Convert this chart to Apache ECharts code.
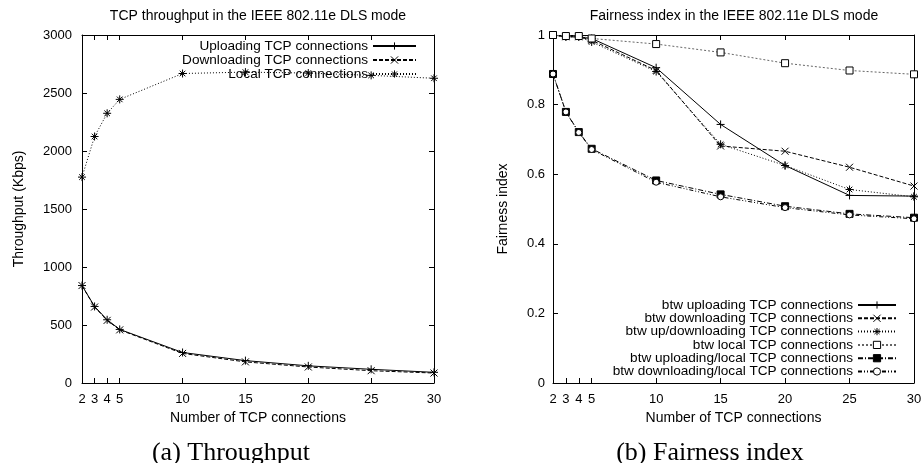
<!doctype html>
<html>
<head>
<meta charset="utf-8">
<title>TCP throughput / fairness in IEEE 802.11e DLS mode (ECharts)</title>
<script src="https://cdn.jsdelivr.net/npm/echarts@6/dist/echarts.min.js"></script>
<style>html, body { margin: 0; background: #fff; }</style>
</head>
<body>
<div id="chart" style="width: 923px; height: 463px;"></div>
<script>
// number of TCP connections (x for both panels)
const conns = [2, 3, 4, 5, 10, 15, 20, 25, 30];

// (a) throughput, Kbps
const thrUp    = [840, 660, 545, 462, 263, 193, 148, 118, 92];
const thrDown  = [840, 655, 540, 458, 255, 182, 138, 106, 86];
const thrLocal = [1775, 2125, 2325, 2445, 2668, 2680, 2672, 2652, 2627];

// (b) fairness index
const fairUp        = [1.0, 0.995, 0.995, 0.99, 0.906, 0.743, 0.625, 0.539, 0.537];
const fairDown      = [1.0, 0.995, 0.995, 0.985, 0.898, 0.681, 0.666, 0.62, 0.566];
const fairUpDown    = [1.0, 0.995, 0.995, 0.98, 0.895, 0.686, 0.625, 0.556, 0.535];
const fairLocal     = [1.0, 0.997, 0.997, 0.99, 0.974, 0.95, 0.919, 0.898, 0.887];
const fairUpLocal   = [0.888, 0.779, 0.721, 0.673, 0.582, 0.542, 0.508, 0.486, 0.475];
const fairDownLocal = [0.888, 0.779, 0.72, 0.671, 0.577, 0.535, 0.504, 0.483, 0.472];

const xTicks = [2, 3, 4, 5, 10, 15, 20, 25, 30];

// gnuplot-ish point types
const PLUS  = 'path://M5,0V10M0,5H10';
const CROSS = 'path://M0,0L10,10M10,0L0,10';
const STAR  = 'path://M5,0V10M0,5H10M1.5,1.5L8.5,8.5M8.5,1.5L1.5,8.5';

const pts = (ys) => conns.map((x, i) => [x, ys[i]]);

function line(name, grid, ys, symbol, size, dash, color, fill) {
	return {
		name: name,
		type: 'line',
		xAxisIndex: grid * 2,
		yAxisIndex: grid * 2,
		data: pts(ys),
		symbol: symbol,
		symbolSize: size,
		showSymbol: true,
		animation: false,
		lineStyle: { width: 1, color: color || '#000', type: dash },
		itemStyle: { color: fill || '#000', borderColor: '#000', borderWidth: 1 },
		emphasis: { disabled: true }
	};
}

function xAxis(grid, bottom) {
	return {
		type: 'value',
		gridIndex: grid,
		position: bottom ? 'bottom' : 'top',
		min: 2,
		max: 30,
		axisLine: { show: true, onZero: false, lineStyle: { color: '#000', width: 1 } },
		axisTick: { show: true, inside: true, length: 5, customValues: xTicks, lineStyle: { color: '#000' } },
		axisLabel: { show: bottom, customValues: xTicks, margin: 10, fontSize: 13, color: '#000' },
		splitLine: { show: false },
		name: bottom ? 'Number of TCP connections' : '',
		nameLocation: 'middle',
		nameGap: 27,
		nameTextStyle: { fontSize: 14, color: '#000' }
	};
}

function yAxis(grid, left, max, interval, name, gap, margin) {
	return {
		type: 'value',
		gridIndex: grid,
		position: left ? 'left' : 'right',
		min: 0,
		max: max,
		interval: interval,
		axisLine: { show: true, lineStyle: { color: '#000', width: 1 } },
		axisTick: { show: true, inside: true, length: 5, lineStyle: { color: '#000' } },
		axisLabel: { show: left, margin: margin, fontSize: 13, color: '#000', formatter: (v) => String(v) },
		splitLine: { show: false },
		name: left ? name : '',
		nameLocation: 'middle',
		nameGap: gap,
		nameTextStyle: { fontSize: 14, color: '#000' }
	};
}

const txt = { fontSize: 14, fontWeight: 'normal', color: '#000' };
const cap = { fontFamily: 'Liberation Serif', fontSize: 26, fontWeight: 'normal', color: '#000' };

const leftNames = ['Uploading TCP connections', 'Downloading TCP connections', 'Local TCP connections'];
const rightNames = [
	'btw uploading TCP connections',
	'btw downloading TCP connections',
	'btw up/downloading TCP connections',
	'btw local TCP connections',
	'btw uploading/local TCP connections',
	'btw downloading/local TCP connections'
];

const chart = echarts.init(document.getElementById('chart'), null, { width: 923, height: 463 });

chart.setOption({
	animation: false,
	textStyle: { fontFamily: 'Liberation Sans', color: '#000' },
	title: [
		{ text: 'TCP throughput in the IEEE 802.11e DLS mode', left: 258, top: 9, padding: 0, textAlign: 'center', textStyle: txt },
		{ text: 'Fairness index in the IEEE 802.11e DLS mode', left: 734, top: 9, padding: 0, textAlign: 'center', textStyle: txt },
		{ text: '(a) Throughput', left: 231, top: 440, padding: 0, textAlign: 'center', textStyle: cap },
		{ text: '(b) Fairness index', left: 710, top: 440, padding: 0, textAlign: 'center', textStyle: cap }
	],
	grid: [
		{ left: 82, top: 35, width: 352, height: 348, outerBoundsMode: 'none' },
		{ left: 553, top: 35, width: 361, height: 348, outerBoundsMode: 'none' }
	],
	legend: [
		{
			data: leftNames, orient: 'vertical', align: 'right', right: 506, top: 39, padding: 0,
			itemWidth: 43, itemHeight: 9, itemGap: 0, selectedMode: false,
			itemStyle: { borderWidth: 1 },
			textStyle: { fontSize: 13.6, lineHeight: 14, color: '#000' }
		},
		{
			data: rightNames, orient: 'vertical', align: 'right', right: 26, top: 298, padding: 0,
			itemWidth: 38, itemHeight: 9, itemGap: -0.7, selectedMode: false,
			itemStyle: { borderWidth: 1 },
			textStyle: { fontSize: 13.6, lineHeight: 13, color: '#000' }
		}
	],
	xAxis: [xAxis(0, true), xAxis(0, false), xAxis(1, true), xAxis(1, false)],
	yAxis: [
		yAxis(0, true, 3000, 500, 'Throughput (Kbps)', 56, 10),
		yAxis(0, false, 3000, 500),
		yAxis(1, true, 1, 0.2, 'Fairness index', 43, 8),
		yAxis(1, false, 1, 0.2)
	],
	series: [
		line(leftNames[0], 0, thrUp, PLUS, 8, 'solid'),
		line(leftNames[1], 0, thrDown, CROSS, 7, [4, 2]),
		line(leftNames[2], 0, thrLocal, STAR, 8, [1, 2]),

		line(rightNames[0], 1, fairUp, PLUS, 8, 'solid'),
		line(rightNames[1], 1, fairDown, CROSS, 7, [4, 2]),
		line(rightNames[2], 1, fairUpDown, STAR, 8, [1, 2]),
		line(rightNames[3], 1, fairLocal, 'rect', 7, [2, 2], '#666', '#fff'),
		line(rightNames[4], 1, fairUpLocal, 'rect', 7, [5, 2, 1, 2]),
		line(rightNames[5], 1, fairDownLocal, 'circle', 6, [4, 2, 1, 2, 1, 2], null, '#fff')
	]
});
</script>
</body>
</html>
